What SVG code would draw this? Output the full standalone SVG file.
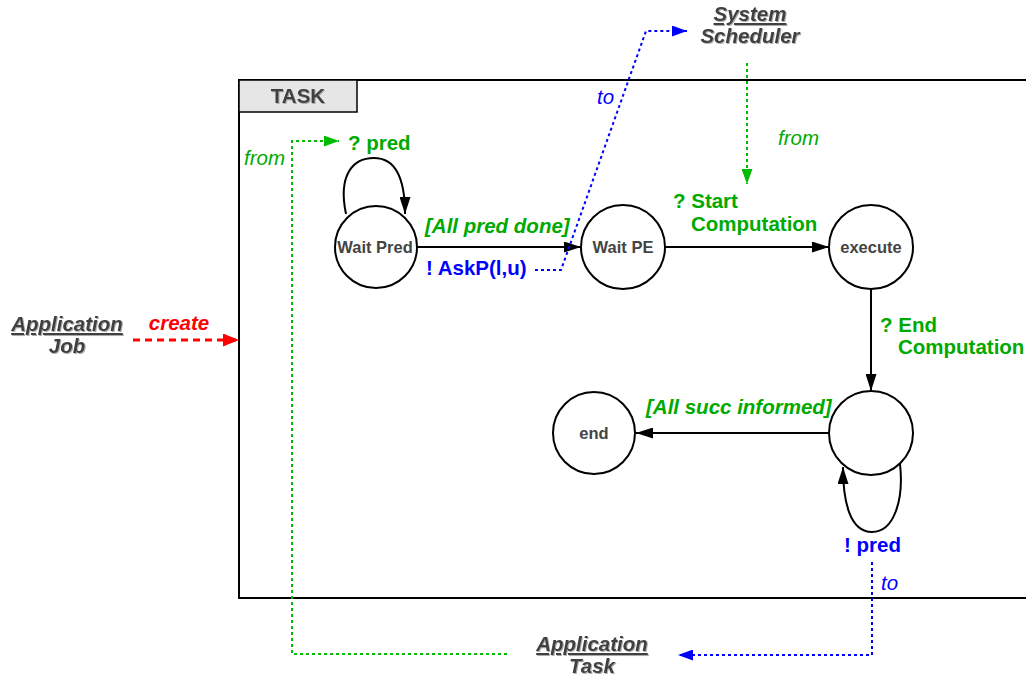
<svg xmlns="http://www.w3.org/2000/svg" width="1026" height="677" viewBox="0 0 1026 677">
  <style>
    text { font-family: "Liberation Sans", Arial, sans-serif; font-weight: bold; }
    .lbl { font-size: 20.5px; }
    .grn { fill: #00aa00; }
    .blu { fill: #0000ff; }
    .red { fill: #ff0000; }
    .ital { font-style: italic; }
    .thin { font-weight: normal; }
    .dark { fill: #404040; filter: url(#soft); }
    .node circle { fill: #ffffff; stroke: #000000; stroke-width: 2; }
    .node text { font-size: 16.5px; text-anchor: middle; fill: #444444; }
    .edge { fill: none; stroke: #000000; stroke-width: 2; }
    .dot-g { fill: none; stroke: #00bb00; stroke-width: 2; stroke-dasharray: 3 3; }
    .dot-b { fill: none; stroke: #0000ff; stroke-width: 2; stroke-dasharray: 3 3; }
    .dash-r { fill: none; stroke: #ff0000; stroke-width: 3; stroke-dasharray: 7 5; }
  </style>
  <defs>
    <filter id="soft" x="-10%" y="-20%" width="130%" height="150%">
      <feDropShadow dx="1" dy="1" stdDeviation="0.6" flood-color="#9a9a9a" flood-opacity="0.8"/>
    </filter>
    <marker id="ah" viewBox="0 0 17 11" refX="17" refY="5.5" markerWidth="17" markerHeight="11" markerUnits="userSpaceOnUse" orient="auto">
      <path d="M0,0 L17,5.5 L0,11 z" fill="#000000"/>
    </marker>
    <marker id="ah-g" viewBox="0 0 15 11" refX="15" refY="5.5" markerWidth="15" markerHeight="11" markerUnits="userSpaceOnUse" orient="auto">
      <path d="M0,0 L15,5.5 L0,11 z" fill="#00bb00"/>
    </marker>
    <marker id="ah-b" viewBox="0 0 15 11" refX="15" refY="5.5" markerWidth="15" markerHeight="11" markerUnits="userSpaceOnUse" orient="auto">
      <path d="M0,0 L15,5.5 L0,11 z" fill="#0000ff"/>
    </marker>
    <marker id="ah-r" viewBox="0 0 16 13" refX="16" refY="6.5" markerWidth="16" markerHeight="13" markerUnits="userSpaceOnUse" orient="auto">
      <path d="M0,0 L16,6.5 L0,13 z" fill="#ff0000"/>
    </marker>
  </defs>

  <rect width="1026" height="677" fill="#ffffff"/>

  <!-- TASK frame with its tab -->
  <g id="task-frame">
    <rect x="239" y="80" width="800" height="518" fill="none" stroke="#000000" stroke-width="2"/>
    <rect x="239" y="80" width="118" height="32" fill="#e6e6e6" stroke="#000000" stroke-width="1.5"/>
    <text x="298" y="103" class="lbl dark" text-anchor="middle">TASK</text>
  </g>

  <!-- external actors -->
  <g id="application-job">
    <text x="67" y="331" class="lbl ital dark" text-anchor="middle" text-decoration="underline">Application</text>
    <text x="67" y="353" class="lbl ital dark" text-anchor="middle">Job</text>
  </g>
  <g id="system-scheduler">
    <text x="750" y="21" class="lbl ital dark" text-anchor="middle" text-decoration="underline">System</text>
    <text x="750" y="43" class="lbl ital dark" text-anchor="middle">Scheduler</text>
  </g>
  <g id="application-task">
    <text x="592" y="651" class="lbl ital dark" text-anchor="middle" text-decoration="underline">Application</text>
    <text x="592" y="673" class="lbl ital dark" text-anchor="middle">Task</text>
  </g>

  <!-- states -->
  <g id="wait-pred" class="node">
    <circle cx="376" cy="247" r="41"/>
    <text x="375" y="253">Wait Pred</text>
  </g>
  <g id="wait-pe" class="node">
    <circle cx="623" cy="247" r="42"/>
    <text x="623" y="253">Wait PE</text>
  </g>
  <g id="execute" class="node">
    <circle cx="871" cy="247" r="42"/>
    <text x="871" y="253">execute</text>
  </g>
  <g id="inform-succ" class="node">
    <circle cx="871" cy="433" r="42"/>
  </g>
  <g id="end" class="node">
    <circle cx="594" cy="433" r="41"/>
    <text x="594" y="439">end</text>
  </g>

  <!-- transitions and messages -->
  <g id="connectors">
    <path class="edge" d="M346,214 C338,176 352,158 374,158 C396,158 405,178 405,214" marker-end="url(#ah)"/>
    <line class="edge" x1="417" y1="247" x2="581" y2="247" marker-end="url(#ah)"/>
    <line class="edge" x1="665" y1="247" x2="829" y2="247" marker-end="url(#ah)"/>
    <line class="edge" x1="871" y1="289" x2="871" y2="391" marker-end="url(#ah)"/>
    <line class="edge" x1="829" y1="433" x2="636" y2="433" marker-end="url(#ah)"/>
    <path class="edge" d="M900,464 C904,500 894,532 872,532 C850,532 843,502 843,467" marker-end="url(#ah)"/>

    <line class="dash-r" x1="133" y1="340" x2="239" y2="340" marker-end="url(#ah-r)"/>
    <path class="dot-b" d="M535,270 L561,270 L646,31 L687,31" marker-end="url(#ah-b)"/>
    <line class="dot-g" x1="747" y1="63" x2="747" y2="184" marker-end="url(#ah-g)"/>
    <path class="dot-g" d="M507,654 L292,654 L292,141 L339,141" marker-end="url(#ah-g)"/>
    <path class="dot-b" d="M872,562 L872,655 L678,655" marker-end="url(#ah-b)"/>

    <text x="348" y="150" class="lbl grn">? pred</text>
    <text x="425" y="233" class="lbl grn ital">[All pred done]</text>
    <text x="426" y="275" class="lbl blu">! AskP(l,u)</text>
    <text x="673" y="208" class="lbl grn">? Start</text>
    <text x="691" y="231" class="lbl grn">Computation</text>
    <text x="880" y="332" class="lbl grn">? End</text>
    <text x="898" y="354" class="lbl grn">Computation</text>
    <text x="646" y="414" class="lbl grn ital">[All succ informed]</text>
    <text x="844" y="552" class="lbl blu">! pred</text>
    <text x="179" y="330" class="lbl red ital" text-anchor="middle">create</text>
    <text x="597" y="104" class="lbl blu ital thin">to</text>
    <text x="881" y="590" class="lbl blu ital thin">to</text>
    <text x="244" y="165" class="lbl grn ital thin">from</text>
    <text x="778" y="145" class="lbl grn ital thin">from</text>
  </g>
</svg>
